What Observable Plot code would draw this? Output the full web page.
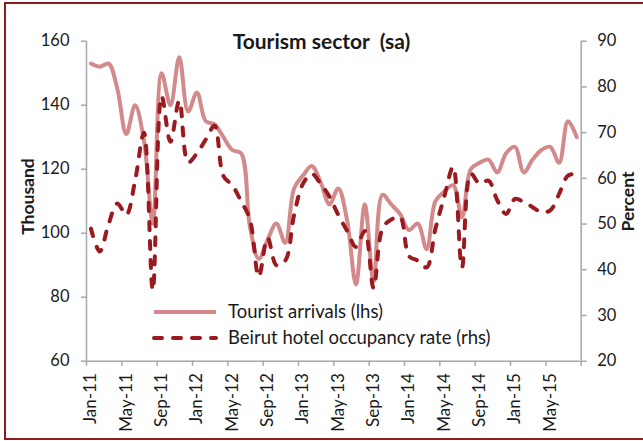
<!DOCTYPE html>
<html>
<head>
<meta charset="utf-8">
<script src="https://cdn.jsdelivr.net/npm/d3@7"></script>
<script src="https://cdn.jsdelivr.net/npm/@observablehq/plot@0.6"></script>
<style>
  html, body { margin: 0; padding: 0; background: #fff; }
  #wrap { position: relative; width: 643px; height: 441px; font-family: Lato, "Open Sans", sans-serif; color: #1a1a1a; overflow: hidden; }
  #wrap svg { position: absolute; left: 0; top: 0; }
  .ov { position: absolute; white-space: pre; }
  .border { position: absolute; left: 4px; top: 2px; width: 650px; height: 434px; border: 2px solid #8e1b1f; pointer-events: none; }
  .title { left: 0; width: 643px; top: 28px; text-align: center; font-weight: bold; font-size: 21px; padding-left: 0px; }
  .ytitle { font-weight: bold; font-size: 17.5px; transform-origin: center center; }
  .leg { font-size: 18.5px; line-height: 19px; }
</style>
</head>
<body>
<div id="wrap"></div>
<script>
// Monthly categories (Jan-11 .. Aug-15)
const months = [
  "Jan-11","Feb-11","Mar-11","Apr-11","May-11","Jun-11","Jul-11","Aug-11","Sep-11","Oct-11","Nov-11","Dec-11",
  "Jan-12","Feb-12","Mar-12","Apr-12","May-12","Jun-12","Jul-12","Aug-12","Sep-12","Oct-12","Nov-12","Dec-12",
  "Jan-13","Feb-13","Mar-13","Apr-13","May-13","Jun-13","Jul-13","Aug-13","Sep-13","Oct-13","Nov-13","Dec-13",
  "Jan-14","Feb-14","Mar-14","Apr-14","May-14","Jun-14","Jul-14","Aug-14","Sep-14","Oct-14","Nov-14","Dec-14",
  "Jan-15","Feb-15","Mar-15","Apr-15","May-15","Jun-15","Jul-15","Aug-15"
];
// Tourist arrivals, thousand (lhs)
const touristArrivals = [
  153,152,153,145,131,140,129,103,150,140,155,138,
  144,135,134,130,126,125,102,92,98,103,97,114,
  118,121,116,109,114,104,84,109,85,112,109,106,
  101,103,95,110,113,115,105,120,122,123,119,125,
  127,119,123,126,127,122,135,130
];
// Beirut hotel occupancy rate, percent (rhs)
const occupancyRate = [
  49,44,50,54.5,52,59.5,70,35.5,78,68,77,63.5,
  65.5,68.5,71.5,60.5,58.5,55,51,38.5,47,41,42,52,
  58.8,61,58.8,56,52,48.5,45,48.5,36,49,51,51.5,
  43,42,40.5,49,56,62.5,40.5,61,58.8,59.5,55.2,52.2,
  55.5,54.8,53.7,52.6,53,56.6,60.6,61
];
const leftTicks = [60, 80, 100, 120, 140, 160];
const rightTicks = [20, 30, 40, 50, 60, 70, 80, 90];
const labelMonths = ["Jan-11","May-11","Sep-11","Jan-12","May-12","Sep-12","Jan-13","May-13","Sep-13","Jan-14","May-14","Sep-14","Jan-15","May-15"];

const title = "Tourism sector  (sa)";
const leftTitle = "Thousand";
const rightTitle = "Percent";
const seriesNames = ["Tourist arrivals (lhs)", "Beirut hotel occupancy rate (rhs)"];

const pinkC = "#d38a8b";
const redC = "#9a1a1f";
const axisC = "#a6a6a6";

// map right-axis percent onto left-axis scale
const lMin = 60, lMax = 160, rMin = 20, rMax = 90;
const toLeft = p => lMin + (p - rMin) * (lMax - lMin) / (rMax - rMin);
const toRight = v => rMin + (v - lMin) * (rMax - rMin) / (lMax - lMin);

const data = months.map((m, i) => ({i, m, t: touristArrivals[i], o: occupancyRate[i]}));
const boundaries = d3.range(months.length / 4 + 1).map(k => k * 4 - 0.5);
const labelIdx = labelMonths.map(m => months.indexOf(m));

const W = 643, H = 441;
const chart = Plot.plot({
  width: W, height: H,
  marginLeft: 86, marginRight: 62.3, marginTop: 40.7, marginBottom: 80.3,
  x: {type: "linear", domain: [-0.5, months.length - 0.5]},
  y: {domain: [lMin, lMax]},
  style: {fontFamily: "Lato, 'Open Sans', sans-serif", fontSize: "16.5px", color: "#1a1a1a", background: "transparent", overflow: "visible"},
  marks: [
    Plot.axisY({ticks: leftTicks, anchor: "left", tickSize: 5, tickPadding: 12, stroke: axisC, strokeWidth: 1.5, fill: "#1a1a1a", fontSize: 16.5, label: null, tickFormat: d => String(d)}),
    Plot.axisY({ticks: rightTicks.map(toLeft), anchor: "right", tickSize: 5, tickPadding: 11, stroke: axisC, strokeWidth: 1.5, fill: "#1a1a1a", fontSize: 16.5, label: null, tickFormat: d => String(Math.round(toRight(d)))}),
    Plot.axisX({ticks: boundaries, anchor: "bottom", tickSize: 5, stroke: axisC, strokeWidth: 1.5, tickFormat: () => "", label: null}),
    Plot.axisX({ticks: labelIdx, anchor: "bottom", tickSize: 0, tickPadding: 12, tickRotate: -90, fill: "#1a1a1a", fontSize: 17, label: null, tickFormat: i => months[i]}),
    Plot.ruleY([lMin], {stroke: axisC, strokeWidth: 1.5}),
    Plot.ruleX([-0.5, months.length - 0.5], {stroke: axisC, strokeWidth: 1.5}),
    Plot.line(data, {x: "i", y: "t", stroke: pinkC, strokeWidth: 4, curve: "catmull-rom"}),
    Plot.line(data, {x: "i", y: d => toLeft(d.o), stroke: redC, strokeWidth: 4, strokeDasharray: "8,11", strokeLinecap: "round", curve: "catmull-rom"})
  ]
});

const wrap = document.getElementById("wrap");
wrap.appendChild(chart);

function addDiv(cls, text, css) {
  const d = document.createElement("div");
  d.className = "ov " + cls;
  d.textContent = text;
  Object.assign(d.style, css || {});
  wrap.appendChild(d);
  return d;
}
addDiv("border", "");
addDiv("title", title);
const lt = addDiv("ytitle", leftTitle, {left: "0px", top: "0px"});
const rt = addDiv("ytitle", rightTitle, {left: "0px", top: "0px"});
function placeRot(el, cx, cy) {
  const w = el.offsetWidth, h = el.offsetHeight;
  el.style.left = (cx - w / 2) + "px";
  el.style.top = (cy - h / 2) + "px";
  el.style.transform = "rotate(-90deg)";
}
placeRot(lt, 27, 196);
placeRot(rt, 628, 201);

// legend
function swatch(y, color, dash) {
  const ns = "http://www.w3.org/2000/svg";
  const s = document.createElementNS(ns, "svg");
  s.setAttribute("width", 70); s.setAttribute("height", 10);
  s.style.position = "absolute"; s.style.left = "150px"; s.style.top = (y - 5) + "px";
  const l = document.createElementNS(ns, "line");
  l.setAttribute("x1", 4); l.setAttribute("x2", 66); l.setAttribute("y1", 5); l.setAttribute("y2", 5);
  l.setAttribute("stroke", color); l.setAttribute("stroke-width", 4);
  if (dash) { l.setAttribute("stroke-dasharray", dash); l.setAttribute("stroke-linecap", "round"); }
  s.appendChild(l);
  wrap.appendChild(s);
}
swatch(312, pinkC, null);
swatch(338, redC, "8,11");
addDiv("leg", seriesNames[0], {left: "228px", top: "302px"});
addDiv("leg", seriesNames[1], {left: "228px", top: "328px"});
</script>
</body>
</html>
